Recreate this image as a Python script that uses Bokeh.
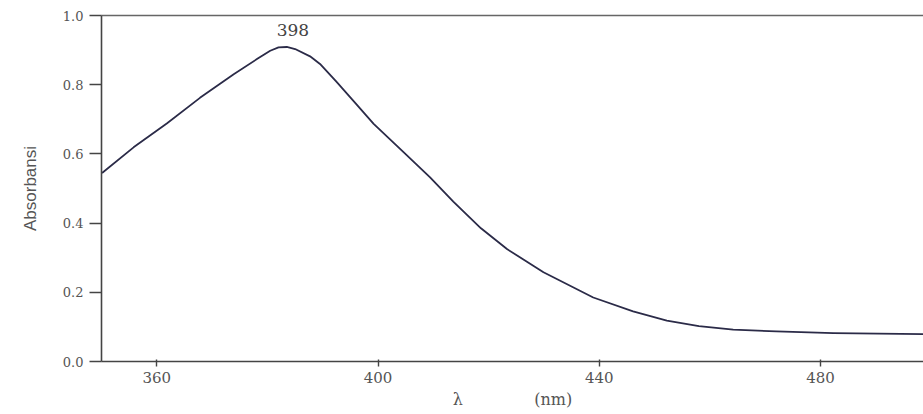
from bokeh.plotting import figure
from bokeh.models import Range1d, FixedTicker, LinearAxis, Label, CustomJSTickFormatter
from bokeh.embed import file_html
from bokeh.resources import INLINE

# Spectrum data
wavelength = [350.1, 355.8, 361.8, 367.8, 373.9, 378.1, 380.5, 382.0, 383.5, 385.0,
              387.7, 389.5, 392.5, 395.5, 399.2, 404.6, 409.4, 413.6, 418.6, 423.3,
              429.9, 438.9, 446.1, 452.2, 458.0, 464.2, 472.0, 482.3, 498.6]
absorbance = [0.545, 0.619, 0.688, 0.762, 0.830, 0.874, 0.898, 0.908, 0.909, 0.903,
              0.882, 0.860, 0.808, 0.754, 0.687, 0.605, 0.532, 0.462, 0.385, 0.325,
              0.258, 0.185, 0.145, 0.118, 0.102, 0.092, 0.087, 0.082, 0.079]
x_ticks = [360, 400, 440, 480]
y_ticks = [0.0, 0.2, 0.4, 0.6, 0.8, 1.0]
peak_label = "398"
peak_pos = (384.6, 0.957)

SERIF = "DejaVu Serif"
TXT = "#555555"
AX = "#444444"

p = figure(width=923, height=414, output_backend="svg", toolbar_location=None,
           x_range=Range1d(350, 498.6), y_range=Range1d(0, 1.0),
           min_border_left=101, min_border_right=0, min_border_top=15,
           min_border_bottom=53, background_fill_color="white",
           border_fill_color="white")
p.outline_line_color = None
p.grid.visible = False

# x axis
xa = p.xaxis[0]
xa.ticker = FixedTicker(ticks=x_ticks)
xa.axis_line_color = AX
xa.axis_line_width = 1.6
xa.major_tick_line_color = AX
xa.major_tick_line_width = 1.4
xa.major_tick_in = 2
xa.major_tick_out = 5
xa.minor_tick_line_color = None
xa.major_label_text_font = SERIF
xa.major_label_text_font_size = "15px"
xa.major_label_text_color = TXT
xa.major_label_standoff = 5
xa.axis_label = "λ" + "\u00a0" * 14 + "(nm)"
xa.axis_label_text_font = SERIF
xa.axis_label_text_font_size = "16px"
xa.axis_label_text_font_style = "normal"
xa.axis_label_text_color = TXT
xa.axis_label_standoff = 4

# y axis
ya = p.yaxis[0]
ya.ticker = FixedTicker(ticks=y_ticks)
ya.formatter = CustomJSTickFormatter(code="return tick.toFixed(1);")
ya.axis_line_color = AX
ya.axis_line_width = 1.6
ya.major_tick_line_color = AX
ya.major_tick_line_width = 1.4
ya.major_tick_in = 0
ya.major_tick_out = 12
ya.minor_tick_line_color = None
ya.major_label_text_font = SERIF
ya.major_label_text_font_size = "13px"
ya.major_label_text_color = TXT
ya.major_label_standoff = 6
ya.axis_label = "Absorbansi"
ya.axis_label_text_font = "Liberation Sans"
ya.axis_label_text_font_size = "17px"
ya.axis_label_text_font_style = "normal"
ya.axis_label_text_color = TXT
ya.axis_label_standoff = 20

# top border line
top = LinearAxis(ticker=FixedTicker(ticks=[]), axis_line_color="#666666",
                 axis_line_width=1.4, major_tick_line_color=None,
                 minor_tick_line_color=None)
p.add_layout(top, "above")

p.line(wavelength, absorbance, line_color="#2b2b48", line_width=1.8,
       line_join="round")

p.add_layout(Label(x=peak_pos[0], y=peak_pos[1], text=peak_label,
                   text_font=SERIF, text_font_size="17px",
                   text_color="#444444", text_align="center",
                   text_baseline="middle"))

open("out.html", "w").write(file_html(p, INLINE))
